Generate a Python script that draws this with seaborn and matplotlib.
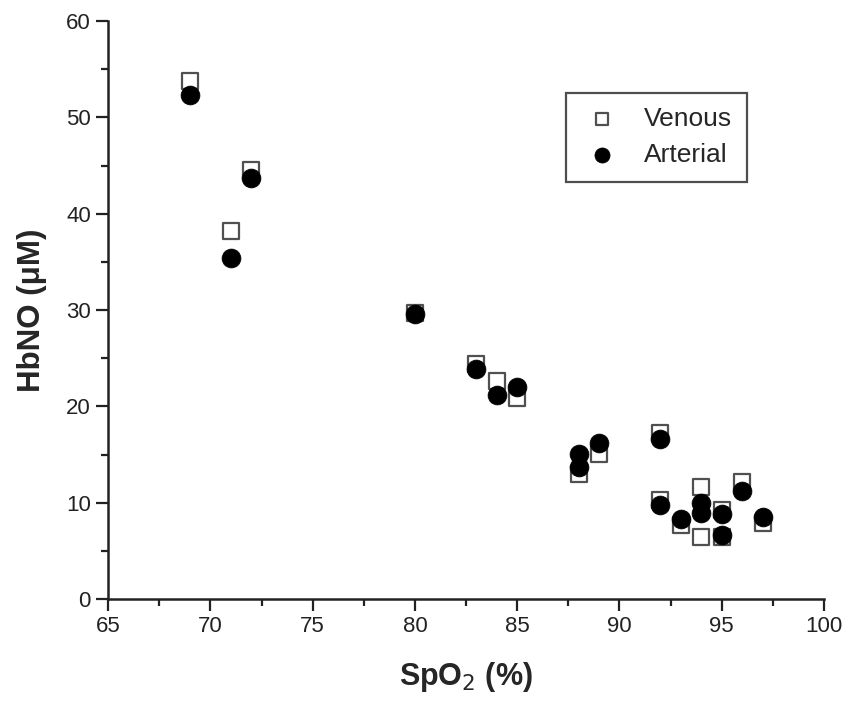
import numpy as np
import pandas as pd
import matplotlib
matplotlib.use("Agg")
import matplotlib.pyplot as plt
import seaborn as sns

# DATA
spo2_venous = [69, 71, 72, 80, 83, 84, 85, 88, 89, 92, 92, 93, 94, 94, 95, 95, 96, 97]
hbno_venous = [53.8, 38.2, 44.5, 29.75, 24.45, 22.6, 20.9, 13.0, 15.05, 17.2, 10.3, 7.7, 11.6, 6.45, 9.2, 6.4, 12.2, 7.9]

spo2_arterial = [69, 71, 72, 80, 83, 84, 85, 88, 88, 89, 92, 92, 93, 94, 94, 95, 95, 96, 97]
hbno_arterial = [52.3, 35.4, 43.7, 29.6, 23.85, 21.2, 22.0, 15.05, 13.7, 16.2, 16.6, 9.76, 8.27, 9.94, 8.9, 8.8, 6.65, 11.25, 8.55]

x_ticks = [65, 70, 75, 80, 85, 90, 95, 100]
y_ticks = [0, 10, 20, 30, 40, 50, 60]

venous = pd.DataFrame({"SpO2": spo2_venous, "HbNO": hbno_venous})
arterial = pd.DataFrame({"SpO2": spo2_arterial, "HbNO": hbno_arterial})

sns.set_style("ticks")
plt.rcParams["font.family"] = ["Liberation Sans", "DejaVu Sans"]

fig = plt.figure(figsize=(8.49, 7.04), dpi=100)
ax = fig.add_axes([0.1275, 0.149, 0.8430, 0.821])

sns.scatterplot(data=venous, x="SpO2", y="HbNO", marker="s", s=135,
                facecolor="white", edgecolor="#505050", linewidth=1.6,
                label="Venous", ax=ax, zorder=3)
sns.scatterplot(data=arterial, x="SpO2", y="HbNO", marker="o", s=185,
                color="black", edgecolor="black", linewidth=0.5,
                label="Arterial", ax=ax, zorder=4)

ax.set_xlim(65, 100)
ax.set_ylim(0, 60)
ax.set_xticks(x_ticks)
ax.set_yticks(y_ticks)
ax.set_xticks(np.arange(67.5, 100, 5), minor=True)
ax.set_yticks(np.arange(5, 60, 10), minor=True)
ax.tick_params(axis="both", which="major", direction="out", length=8.5, width=1.6,
               labelsize=16, color="#222222", labelcolor="#222222", pad=4)
ax.tick_params(axis="both", which="minor", direction="out", length=5, width=1.6,
               color="#222222")

sns.despine(ax=ax)
for side in ["left", "bottom"]:
    ax.spines[side].set_linewidth(1.8)
    ax.spines[side].set_color("#222222")

ax.set_xlabel("SpO$_2$ (%)", fontsize=22, fontweight="bold", labelpad=16)
ax.set_ylabel("HbNO (\u03bcM)", fontsize=22.5, fontweight="bold", labelpad=14)

leg = ax.legend(loc="upper left", bbox_to_anchor=(0.640, 0.876), borderaxespad=0,
                fontsize=19, frameon=True, fancybox=False, edgecolor="#222222",
                handletextpad=0.8, handlelength=1.6, borderpad=0.55,
                labelspacing=0.45, markerscale=0.8)
leg.get_frame().set_linewidth(1.6)

fig.savefig("out.png", dpi=100)
